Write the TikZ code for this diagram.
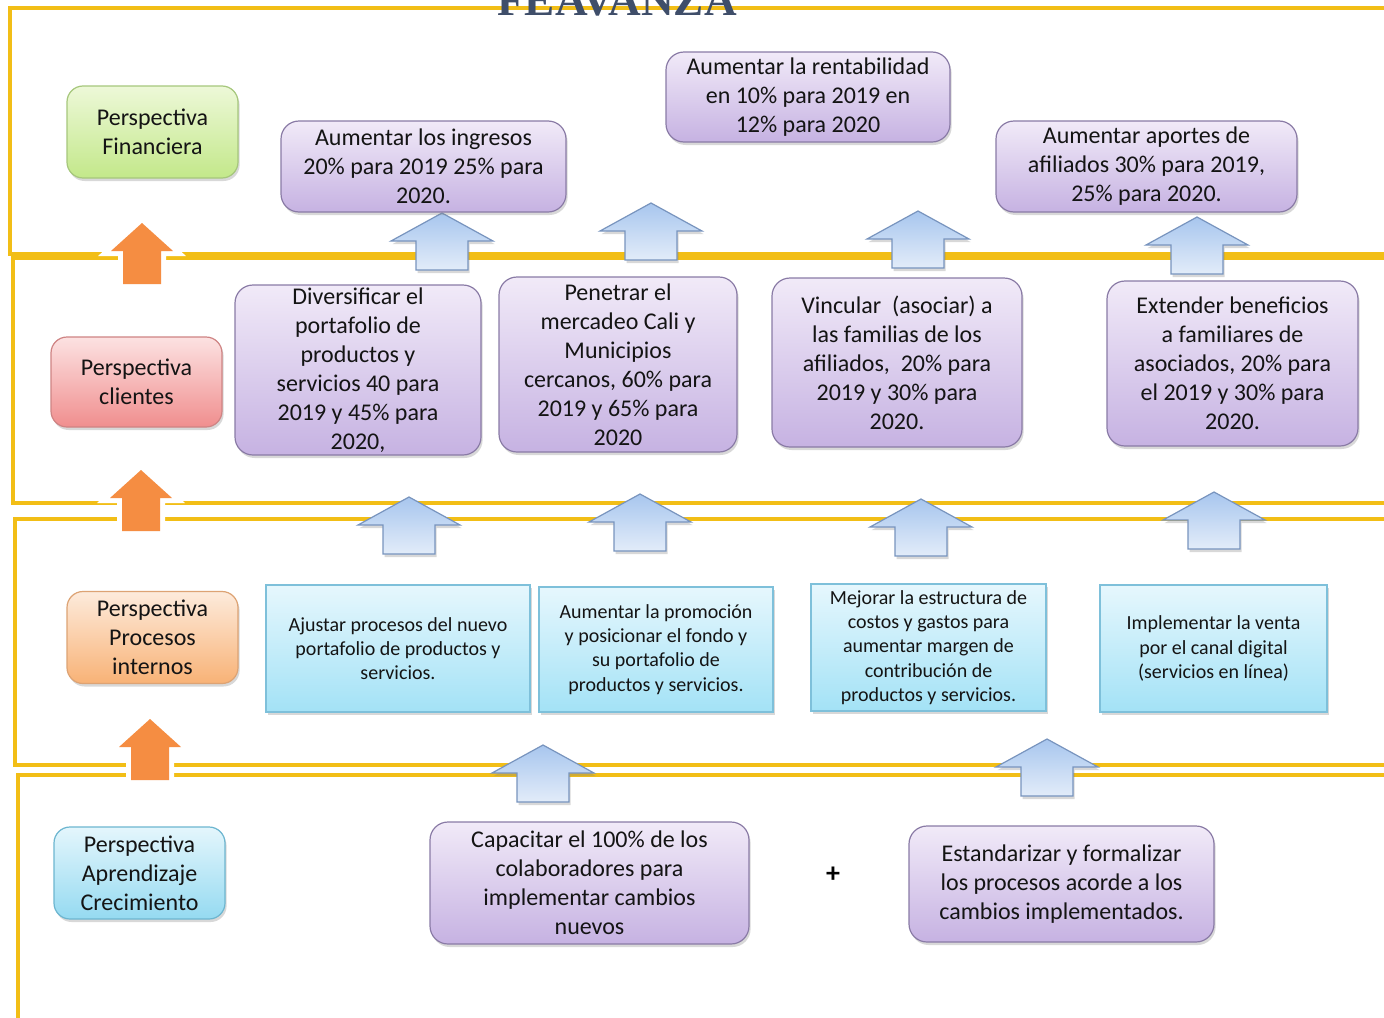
\documentclass[tikz,border=0pt]{standalone}
\usepackage{fontspec}
\setmainfont{Carlito}
\newfontfamily\titlefont{Liberation Serif}
\usetikzlibrary{shadows}
\definecolor{gold}{HTML}{F2BE16}
\definecolor{txt}{HTML}{141414}
\definecolor{purtop}{HTML}{F1EAF8}
\definecolor{purbot}{HTML}{C6B2E2}
\definecolor{purline}{HTML}{8A7BA6}
\definecolor{cyantop}{HTML}{E6F7FD}
\definecolor{cyanbot}{HTML}{A3E2F6}
\definecolor{cyanline}{HTML}{7EC0DA}
\definecolor{bluetop}{HTML}{A8C6EE}
\definecolor{bluebot}{HTML}{E2ECF9}
\definecolor{blueline}{HTML}{7894BE}
\definecolor{orangefill}{HTML}{F58D42}
\definecolor{titlecol}{HTML}{3F4E6A}
\definecolor{greentop}{HTML}{EDF8D8}
\definecolor{greenbot}{HTML}{C3E88A}
\definecolor{greenline}{HTML}{A6C77C}
\definecolor{redtop}{HTML}{FCE2E2}
\definecolor{redbot}{HTML}{F08E8E}
\definecolor{redline}{HTML}{CF8484}
\definecolor{orgtop}{HTML}{FDEBDC}
\definecolor{orgbot}{HTML}{F8B276}
\definecolor{orgline}{HTML}{DDA374}
\definecolor{aqtop}{HTML}{E4F6FC}
\definecolor{aqbot}{HTML}{95DAF1}
\definecolor{aqline}{HTML}{6DB6D0}
\tikzset{
  frame/.style={draw=gold, line width=2pt},
  shad/.style={drop shadow={opacity=0.3, shadow xshift=0.8pt, shadow yshift=-1.5pt}},
  purp/.style={draw=purline, line width=0.6pt, rounded corners=9pt, top color=purtop, bottom color=purbot,
    align=center, text=txt, inner sep=0pt, font=\fontsize{12}{14.5}\selectfont, shad},
  cyanbox/.style={draw=cyanline, line width=0.6pt, top color=cyantop, bottom color=cyanbot,
    align=center, text=txt, inner sep=0pt, font=\fontsize{10}{12.1}\selectfont, shad},
  lab/.style={line width=0.6pt, rounded corners=8pt, align=center, text=txt, inner sep=0pt,
    minimum width=85.5pt, minimum height=46pt, font=\fontsize{12}{14.5}\selectfont, shad},
  barrow/.pic={
    \draw[draw=blueline, line width=0.6pt, top color=bluetop, bottom color=bluebot, shad]
      (0,0) -- (51,28) -- (26,28) -- (26,57) -- (-26,57) -- (-26,28) -- (-51,28) -- cycle;
  },
  oarrow/.pic={
    \path[preaction={draw=white, line width=5pt, miter limit=20,
        drop shadow={opacity=0.25, shadow xshift=0.6pt, shadow yshift=-1.2pt}},
        fill=orangefill]
      (0,0) -- (31,28) -- (19,28) -- (19,61) -- (-19,61) -- (-19,28) -- (-31,28) -- cycle;
  }
}
\begin{document}
\begin{tikzpicture}[x=0.5pt,y=-0.5pt]
\useasboundingbox (0,0) rectangle (1384,1017);
\clip (0,0) rectangle (1384,1017);
\fill[white] (0,0) rectangle (1384,1017);

% frames
\draw[frame] (1390,8) -- (10,8) -- (10,254) -- (1390,254);
\draw[frame] (1390,258) -- (13,258) -- (13,503) -- (1390,503);
\draw[frame] (1390,519) -- (15,519) -- (15,765) -- (1390,765);
\draw[frame] (1390,775) -- (18,775) -- (18,1030);

% title
\node[anchor=base, text=titlecol, inner sep=0pt, font=\titlefont\bfseries\fontsize{22.6}{26}\selectfont] (title) at (617,16) {FEAVANZA};

% orange arrows
\pic at (142,223) {oarrow};
\pic at (141,470) {oarrow};
\pic at (150,719) {oarrow};

% blue arrows
\pic at (442,213) {barrow};
\pic at (651,203) {barrow};
\pic at (918,211) {barrow};
\pic at (1197,217) {barrow};
\pic at (409,497) {barrow};
\pic at (640,494) {barrow};
\pic at (921,499) {barrow};
\pic at (1214,492) {barrow};
\pic at (543,745) {barrow};
\pic at (1047,739) {barrow};

% perspective labels
\node[lab, draw=greenline, top color=greentop, bottom color=greenbot] (fin) at (152.5,132) {Perspectiva\\Financiera};
\node[lab, draw=redline, top color=redtop, bottom color=redbot, minimum height=45pt] (cli) at (136.5,382) {Perspectiva\\clientes};
\node[lab, draw=orgline, top color=orgtop, bottom color=orgbot] (pro) at (152.5,637.5) {Perspectiva\\Procesos\\internos};
\node[lab, draw=aqline, top color=aqtop, bottom color=aqbot] (apr) at (139.5,873) {Perspectiva\\Aprendizaje\\Crecimiento};

% financial
\node[purp, minimum width=142.5pt, minimum height=45.5pt] (ing) at (423.5,166.5) {Aumentar los ingresos\\20\% para 2019 25\% para\\2020.};
\node[purp, minimum width=142pt, minimum height=45pt] (rent) at (808,97) {Aumentar la rentabilidad\\en 10\% para 2019 en\\12\% para 2020};
\node[purp, minimum width=150.5pt, minimum height=45.5pt] (apo) at (1146.5,166.5) {Aumentar aportes de\\afiliados 30\% para 2019,\\25\% para 2020.};

% clients
\node[purp, minimum width=123pt, minimum height=85pt] (div) at (358,370) {Diversificar el\\portafolio de\\productos y\\servicios 40 para\\2019 y 45\% para\\2020,};
\node[purp, minimum width=119pt, minimum height=87.5pt] (pen) at (618,364.5) {Penetrar el\\mercadeo Cali y\\Municipios\\cercanos, 60\% para\\2019 y 65\% para\\2020};
\node[purp, minimum width=125pt, minimum height=84.5pt] (vin) at (897,362.5) {Vincular\ \ (asociar) a\\las familias de los\\afiliados,\ \ 20\% para\\2019 y 30\% para\\2020.};
\node[purp, minimum width=125.5pt, minimum height=82.5pt] (ext) at (1232.5,363.5) {Extender beneficios\\a familiares de\\asociados, 20\% para\\el 2019 y 30\% para\\2020.};

% processes
\node[cyanbox, minimum width=132pt, minimum height=63.5pt] (aju) at (398,648.5) {Ajustar procesos del nuevo\\portafolio de productos y\\servicios.};
\node[cyanbox, minimum width=117pt, minimum height=62.5pt] (prom) at (656,649.5) {Aumentar la promoción\\y posicionar el fondo y\\su portafolio de\\productos y servicios.};
\node[cyanbox, minimum width=117.5pt, minimum height=63.5pt] (mej) at (928.5,647.5) {Mejorar la estructura de\\costos y gastos para\\aumentar margen de\\contribución de\\productos y servicios.};
\node[cyanbox, minimum width=113.5pt, minimum height=63.5pt] (imp) at (1213.5,648.5) {Implementar la venta\\por el canal digital\\(servicios en línea)};

% learning
\node[purp, minimum width=159.5pt, minimum height=61pt] (cap) at (589.5,883) {Capacitar el 100\% de los\\colaboradores para\\implementar cambios\\nuevos};
\node[purp, minimum width=152.5pt, minimum height=58pt] (est) at (1061.5,884) {Estandarizar y formalizar\\los procesos acorde a los\\cambios implementados.};
\node[text=black, inner sep=0pt, font=\bfseries\fontsize{14}{16}\selectfont] (plus) at (833,875) {+};
\end{tikzpicture}
\end{document}
